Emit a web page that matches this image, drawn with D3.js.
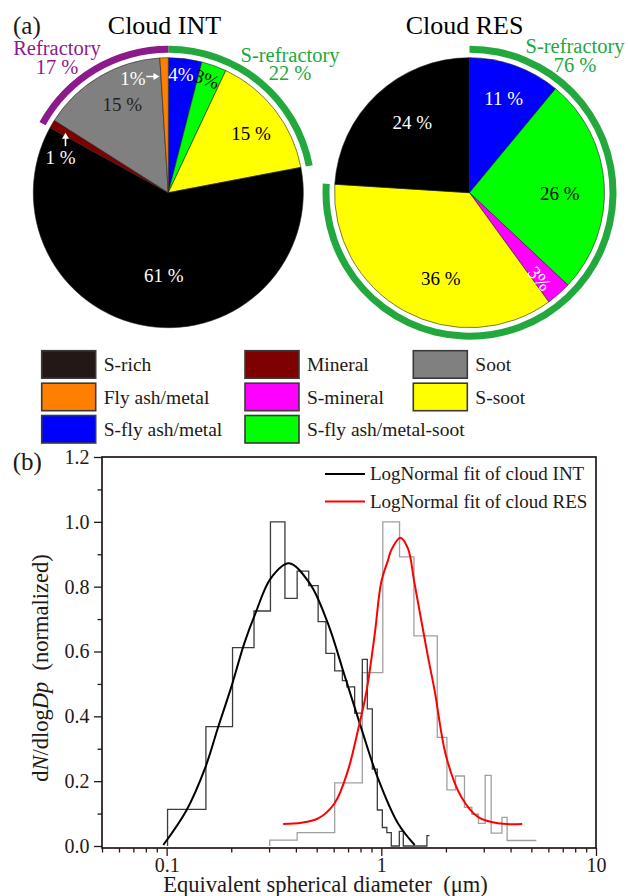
<!DOCTYPE html>
<html>
<head>
<meta charset="utf-8">
<script src="https://cdn.jsdelivr.net/npm/d3@7"></script>
<style>
  body { margin: 0; background: #fff; }
  svg { display: block; }
</style>
</head>
<body>
<div id="chart"></div>
<script>
// particle classes, pie colours and legend swatch colours
var categories = ["S-rich", "Mineral", "Soot", "Fly ash/metal", "S-mineral", "S-soot", "S-fly ash/metal", "S-fly ash/metal-soot"];
var pieColors = ["#000000", "#7f0000", "#808080", "#ff8000", "#ff00ff", "#ffff00", "#0000ff", "#00ff00"];
var swatchColors = ["#231815", "#7f0000", "#808080", "#ff8000", "#ff00ff", "#ffff00", "#0000ff", "#00ff00"];

// pie shares (%), clockwise from 12 o'clock
var intClasses = ["S-fly ash/metal", "S-fly ash/metal-soot", "S-soot", "S-rich", "Mineral", "Soot", "Fly ash/metal"];
var intShares = [4, 3, 15, 61, 1, 15, 1];
var resClasses = ["S-fly ash/metal", "S-fly ash/metal-soot", "S-mineral", "S-soot", "S-rich"];
var resShares = [11, 26, 3, 36, 24];

// outer ring groups
var sRefractoryClasses = ["S-fly ash/metal", "S-fly ash/metal-soot", "S-mineral", "S-soot"];
var refractoryClasses = ["Mineral", "Soot", "Fly ash/metal"];

// size distributions: bin edges (um) and normalized dN/dlogDp
var intEdges = [0.101, 0.1524, 0.2028, 0.2553, 0.3045, 0.3557, 0.4055, 0.459, 0.5078, 0.5518, 0.6065, 0.6587, 0.6912, 0.7513, 0.8157, 0.8607, 0.9081, 0.9581, 1.011, 1.061, 1.113, 1.213, 1.266, 1.631, 1.677];
var intValues = [0.113, 0.368, 0.612, 0.725, 1.0, 0.764, 0.848, 0.803, 0.692, 0.594, 0.54, 0.51, 0.491, 0.41, 0.576, 0.423, 0.237, 0.111, 0.057, 0.041, 0, 0.045, 0, 0.032];
var resEdges = [0.3022, 0.4055, 0.6065, 0.8157, 1.016, 1.216, 1.419, 1.822, 2.021, 2.216, 2.44, 2.642, 2.836, 3.046, 3.249, 3.646, 3.855, 5.277];
var resValues = [0.018, 0.041, 0.195, 0.535, 1.0, 0.892, 0.648, 0.335, 0.173, 0.216, 0.119, 0.098, 0.07, 0.218, 0.04, 0.088, 0.017];

// lognormal fit curves
var intFitX = [0.0965, 0.124, 0.151, 0.174, 0.2, 0.23, 0.26, 0.305, 0.371, 0.464, 0.565, 0.675, 0.807, 0.958, 1.195, 1.43];
var intFitY = [0.003, 0.111, 0.24, 0.368, 0.49, 0.625, 0.72, 0.825, 0.872, 0.81, 0.685, 0.525, 0.363, 0.214, 0.07, 0.003];
var resFitX = [0.349, 0.425, 0.508, 0.606, 0.7, 0.779, 0.852, 0.931, 1.0, 1.075, 1.113, 1.226, 1.33, 1.428, 1.649, 1.77, 2.007, 2.355, 2.817, 3.49, 4.53];
var resFitY = [0.068, 0.072, 0.085, 0.132, 0.234, 0.358, 0.475, 0.651, 0.815, 0.882, 0.913, 0.951, 0.918, 0.81, 0.584, 0.481, 0.275, 0.152, 0.09, 0.07, 0.068];

var yTicks = [0, 0.2, 0.4, 0.6, 0.8, 1.0, 1.2];
var xTicks = [0.1, 1, 10];

var textColor = "#231815";
var green = "#22a83c";
var purple = "#8c1a8c";

// pick a Times-like serif that is actually installed (measure against fallbacks)
function pickSerif() {
  var ctx = document.createElement("canvas").getContext("2d");
  var probe = "Cloud INT Refractory 0.123";
  function w(f) { ctx.font = "40px " + f; return ctx.measureText(probe).width; }
  var mono = w("monospace"), sans = w("sans-serif");
  var cands = ["Liberation Serif", "Times New Roman", "Tinos", "Nimbus Roman", "DejaVu Serif", "Noto Serif"];
  for (var i = 0; i < cands.length; i++) {
    var a = w("'" + cands[i] + "', monospace"), b = w("'" + cands[i] + "', sans-serif");
    if (a !== mono && b !== sans && Math.abs(a - b) < 0.01) return "'" + cands[i] + "', serif";
  }
  return "serif";
}
var serif = pickSerif();

var svg = d3.select("#chart").append("svg")
  .attr("width", 628)
  .attr("height", 896)
  .style("font-family", serif);

function colorOf(name, list) {
  return list[categories.indexOf(name)];
}

// ---------- panel (a): pies ----------
var pieRadius = 135;
var arc = d3.arc().innerRadius(0).outerRadius(pieRadius);
var ring = d3.arc().innerRadius(140).outerRadius(147);
var pie = d3.pie().sort(null).value(function(d) { return d.value; });

function drawPie(cx, cy, classes, shares, groups, labels) {
  var g = svg.append("g").attr("transform", "translate(" + cx + "," + cy + ")");
  var slices = pie(classes.map(function(c, i) { return {name: c, value: shares[i]}; }));

  g.selectAll(".slice")
    .data(slices)
    .enter().append("path")
    .attr("class", "slice")
    .attr("d", arc)
    .attr("fill", function(d) { return colorOf(d.data.name, pieColors); })
    .attr("stroke", "#222")
    .attr("stroke-width", 0.6);

  // outer ring for each class group
  groups.forEach(function(grp) {
    var members = slices.filter(function(s) { return grp.members.indexOf(s.data.name) >= 0; });
    if (!members.length) return;
    g.append("path")
      .attr("d", ring({
        startAngle: d3.min(members, function(s) { return s.startAngle; }),
        endAngle: d3.max(members, function(s) { return s.endAngle; })
      }))
      .attr("fill", grp.color);
  });

  labels.forEach(function(l) {
    g.append("text")
      .attr("text-anchor", "middle")
      .attr("dy", "0.35em")
      .attr("font-size", 19)
      .attr("fill", l.fill)
      .attr("transform", "translate(" + l.dx + "," + l.dy + ")" + (l.rot ? " rotate(" + l.rot + ")" : ""))
      .text(l.text);
  });
  return g;
}

var intG = drawPie(168.3, 192.7, intClasses, intShares,
  [{members: sRefractoryClasses, color: green}, {members: refractoryClasses, color: purple}],
  [
    {text: "4%", dx: 12.5, dy: -118, fill: "#fff"},
    {text: "3%", dx: 38.5, dy: -114, fill: "#000", rot: 20},
    {text: "15 %", dx: 82.7, dy: -59, fill: "#000"},
    {text: "61 %", dx: -4.6, dy: 82.3, fill: "#fff"},
    {text: "15 %", dx: -46, dy: -88, fill: "#222"},
    {text: "1%", dx: -35.5, dy: -114.7, fill: "#fff"},
    {text: "1 %", dx: -107.8, dy: -35.7, fill: "#fff"}
  ]);

// white arrows pointing at the two thin INT slices
function arrow(g, x1, y1, x2, y2) {
  var a = Math.atan2(y2 - y1, x2 - x1), h = 6, w = 3.5;
  g.append("line").attr("x1", x1).attr("y1", y1)
    .attr("x2", x2 - Math.cos(a) * h * 0.8).attr("y2", y2 - Math.sin(a) * h * 0.8)
    .attr("stroke", "#fff").attr("stroke-width", 1.6);
  var bx = x2 - Math.cos(a) * h, by = y2 - Math.sin(a) * h;
  g.append("path")
    .attr("d", "M" + x2 + "," + y2 +
      "L" + (bx - Math.sin(a) * w) + "," + (by + Math.cos(a) * w) +
      "L" + (bx + Math.sin(a) * w) + "," + (by - Math.cos(a) * w) + "Z")
    .attr("fill", "#fff");
}
arrow(intG, -22, -116.2, -8.8, -116.2);
arrow(intG, -102.8, -46.5, -102.8, -60);

drawPie(469.5, 192.7, resClasses, resShares,
  [{members: sRefractoryClasses, color: green}],
  [
    {text: "11 %", dx: 34.2, dy: -94, fill: "#fff"},
    {text: "24 %", dx: -57.3, dy: -70.7, fill: "#fff"},
    {text: "26 %", dx: 90.2, dy: 0.3, fill: "#000"},
    {text: "36 %", dx: -28.7, dy: 86, fill: "#000"},
    {text: "3%", dx: 70.2, dy: 85.6, fill: "#fff", rot: 50}
  ]);

function groupShare(classes, shares, members) {
  return d3.sum(classes, function(c, i) { return members.indexOf(c) >= 0 ? shares[i] : 0; });
}

// titles and group labels
svg.append("text").attr("x", 13).attr("y", 34).attr("font-size", 25).attr("fill", textColor).text("(a)");
svg.append("text").attr("x", 164.5).attr("y", 34).attr("text-anchor", "middle").attr("font-size", 26).attr("fill", "#000").text("Cloud INT");
svg.append("text").attr("x", 464.5).attr("y", 33.5).attr("text-anchor", "middle").attr("font-size", 26).attr("fill", "#000").text("Cloud RES");

function groupLabel(x, y1, y2, name, value, color) {
  svg.append("text").attr("x", x).attr("y", y1).attr("text-anchor", "middle")
    .attr("font-size", 20.5).attr("fill", color).text(name);
  svg.append("text").attr("x", x).attr("y", y2).attr("text-anchor", "middle")
    .attr("font-size", 20.5).attr("fill", color).text(value + " %");
}
groupLabel(57, 54.5, 74, "Refractory", groupShare(intClasses, intShares, refractoryClasses), purple);
groupLabel(290, 61.5, 80, "S-refractory", groupShare(intClasses, intShares, sRefractoryClasses), green);
groupLabel(575, 52.5, 71.5, "S-refractory", groupShare(resClasses, resShares, sRefractoryClasses), green);

// legend for the classes, 3 columns
var legendCols = [41.7, 245, 413.3];
var legendRows = [350.7, 383.2, 415.5];
var legend = svg.append("g");
categories.forEach(function(c, i) {
  var col = i % 3, row = Math.floor(i / 3);
  legend.append("rect")
    .attr("x", legendCols[col]).attr("y", legendRows[row])
    .attr("width", 54).attr("height", 27.5)
    .attr("fill", swatchColors[i])
    .attr("stroke", "#3a3a3a").attr("stroke-width", 1.6);
  legend.append("text")
    .attr("x", legendCols[col] + 62).attr("y", legendRows[row] + 20.5)
    .attr("font-size", 19.5).attr("fill", textColor)
    .text(c);
});

// ---------- panel (b): size distributions ----------
var plot = {left: 102, right: 596, top: 457, bottom: 848};
var x = d3.scaleLog().domain([0.05, 10]).range([plot.left, plot.right]);
var y = d3.scaleLinear().domain([0, 1.2]).range([846, plot.top]);

function stepPoints(edges, values) {
  var pts = [[edges[0], 0]];
  values.forEach(function(v, i) { pts.push([edges[i], v]); });
  pts.push([edges[edges.length - 1], values[values.length - 1]]);
  return pts;
}
var step = d3.line()
  .x(function(d) { return x(d[0]); })
  .y(function(d) { return y(d[1]); })
  .curve(d3.curveStepAfter);
var smooth = d3.line()
  .x(function(d) { return x(d[0]); })
  .y(function(d) { return y(d[1]); })
  .curve(d3.curveCatmullRom.alpha(0.5));

svg.append("path").attr("d", step(stepPoints(resEdges, resValues)))
  .attr("fill", "none").attr("stroke", "#a0a0a0").attr("stroke-width", 1.3);
svg.append("path").attr("d", step(stepPoints(intEdges, intValues)))
  .attr("fill", "none").attr("stroke", "#3c3c3c").attr("stroke-width", 1.3);

svg.append("path").attr("d", smooth(d3.zip(intFitX, intFitY)))
  .attr("fill", "none").attr("stroke", "#000").attr("stroke-width", 2);
svg.append("path").attr("d", smooth(d3.zip(resFitX, resFitY)))
  .attr("fill", "none").attr("stroke", "#ff0000").attr("stroke-width", 2);

// axes
svg.append("g").attr("transform", "translate(" + plot.left + ",0)")
  .call(d3.axisLeft(y).tickValues(yTicks).tickFormat(d3.format(".1f")).tickSize(8).tickSizeOuter(0).tickPadding(4.5));
svg.append("g").attr("transform", "translate(" + plot.left + ",0)")
  .call(d3.axisLeft(y).tickValues(d3.range(0.1, 1.2, 0.2)).tickFormat("").tickSize(4.5).tickSizeOuter(0));

var minorX = [];
[0.01, 0.1, 1].forEach(function(dec) {
  d3.range(2, 10).forEach(function(k) {
    var v = +(k * dec).toPrecision(3);
    if (v >= 0.05 && v <= 10) minorX.push(v);
  });
});
svg.append("g").attr("transform", "translate(0," + plot.bottom + ")")
  .call(d3.axisBottom(x).tickValues(xTicks).tickFormat(d3.format("~g")).tickSize(8).tickSizeOuter(0).tickPadding(2));
svg.append("g").attr("transform", "translate(0," + plot.bottom + ")")
  .call(d3.axisBottom(x).tickValues(minorX).tickFormat("").tickSize(4.5).tickSizeOuter(0));

svg.selectAll(".domain").remove();
svg.selectAll(".tick line").attr("stroke", "#231815").attr("stroke-width", 1.3);
svg.selectAll(".tick text").attr("font-size", 20).attr("fill", textColor)
  .attr("font-family", serif);

svg.append("rect")
  .attr("x", plot.left).attr("y", plot.top)
  .attr("width", plot.right - plot.left).attr("height", plot.bottom - plot.top)
  .attr("fill", "none").attr("stroke", "#231815").attr("stroke-width", 1.7);

// axis titles
var yl = svg.append("text")
  .attr("transform", "translate(47.5,668) rotate(-90)")
  .attr("text-anchor", "middle").attr("font-size", 22.5).attr("fill", textColor);
yl.append("tspan").text("d");
yl.append("tspan").attr("font-style", "italic").text("N");
yl.append("tspan").text("/dlog");
yl.append("tspan").attr("font-style", "italic").text("Dp");
yl.append("tspan").text("\u00a0\u00a0(normalized)");

svg.append("text").attr("x", 325.5).attr("y", 892)
  .attr("text-anchor", "middle").attr("font-size", 22.5).attr("fill", textColor)
  .text("Equivalent spherical diameter\u00a0\u00a0(\u03bcm)");

svg.append("text").attr("x", 12.7).attr("y", 470).attr("font-size", 25).attr("fill", textColor).text("(b)");

// fit legend
var fitLegend = [
  {label: "LogNormal fit of cloud INT", color: "#000", y: 474},
  {label: "LogNormal fit of cloud RES", color: "#ff0000", y: 501.5}
];
fitLegend.forEach(function(f) {
  svg.append("line").attr("x1", 325).attr("x2", 365).attr("y1", f.y).attr("y2", f.y)
    .attr("stroke", f.color).attr("stroke-width", 2);
  svg.append("text").attr("x", 370).attr("y", f.y + 6)
    .attr("font-size", 19).attr("fill", textColor).text(f.label);
});
</script>
</body>
</html>
